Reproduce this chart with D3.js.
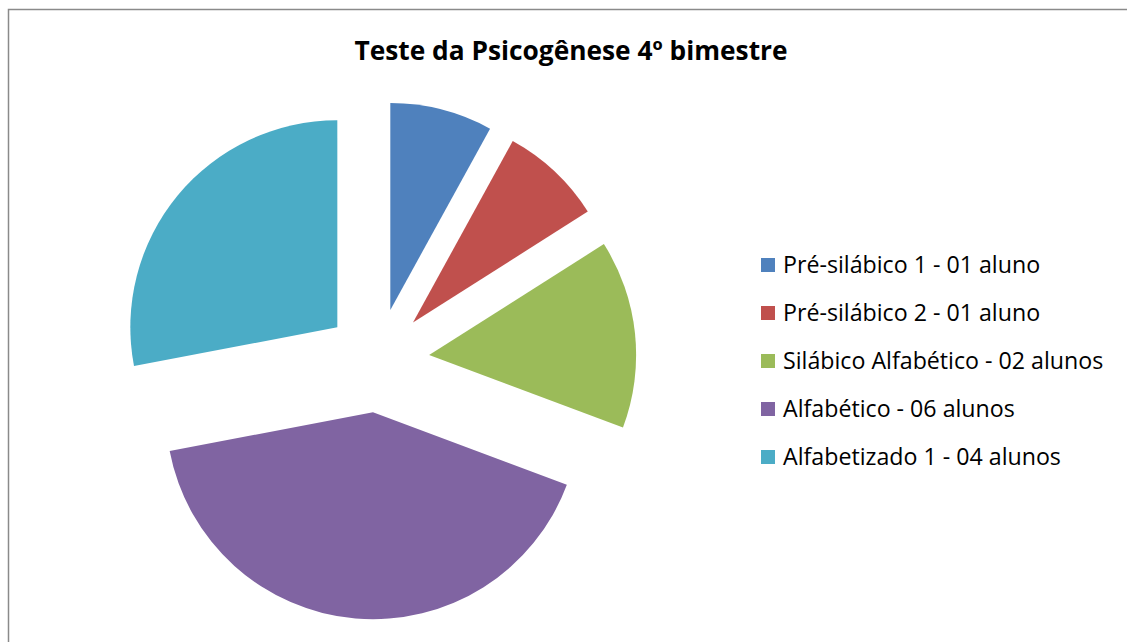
<!DOCTYPE html>
<html>
<head>
<meta charset="utf-8">
<script src="https://cdn.jsdelivr.net/npm/d3@7"></script>
<style>
  html, body { margin: 0; padding: 0; background: #fff; }
  svg { display: block; }
  .title { font-family: 'Open Sans', Lato, sans-serif; font-weight: bold; font-size: 26.3px; fill: #000; }
  .legend text { font-family: 'Open Sans', Lato, sans-serif; font-size: 23.2px; fill: #000; }
</style>
</head>
<body>
<div id="chart"></div>
<script>
var title = 'Teste da Psicogênese 4º bimestre';

var categories = [
  'Pré-silábico 1 - 01 aluno',
  'Pré-silábico 2 - 01 aluno',
  'Silábico Alfabético - 02 alunos',
  'Alfabético - 06 alunos',
  'Alfabetizado 1 - 04 alunos'
];

// slice sizes (share of the pie, %)
var shares = [8, 8, 14.7, 41.3, 28];

var colours = ['#4f81bd', '#c0504d', '#9bbb59', '#8064a2', '#4bacc6'];

var width = 1127,
    height = 642;

var svg = d3.select('#chart').append('svg')
    .attr('width', width)
    .attr('height', height);

// chart area frame (only top and left edges fall inside the picture)
svg.append('rect')
    .attr('x', 8.5)
    .attr('y', 9.5)
    .attr('width', width + 20)
    .attr('height', height + 20)
    .style('fill', '#fff')
    .style('stroke', '#8a8a8a')
    .style('stroke-width', 1.5);

svg.append('text')
    .attr('class', 'title')
    .attr('x', 571)
    .attr('y', 60)
    .style('text-anchor', 'middle')
    .text(title);

var data = categories.map(function(c, i) {
  return {name: c, value: shares[i], colour: colours[i]};
});

var radius = 207,
    explode = 52;

var pie = d3.pie()
    .sort(null)
    .value(function(d) { return d.value; });

var arc = d3.arc()
    .innerRadius(0)
    .outerRadius(radius);

var pieGroup = svg.append('g')
    .attr('transform', 'translate(377.4,360.4)');

// every slice is pushed out along its bisector
pieGroup.selectAll('path')
    .data(pie(data))
  .enter().append('path')
    .attr('d', arc)
    .attr('transform', function(d) {
      var a = (d.startAngle + d.endAngle) / 2;
      return 'translate(' + (explode * Math.sin(a)) + ',' + (-explode * Math.cos(a)) + ')';
    })
    .style('fill', function(d) { return d.data.colour; });

// legend
var legendY = d3.scalePoint()
    .domain(categories)
    .range([265, 457]);

var legend = svg.selectAll('.legend')
    .data(data)
  .enter().append('g')
    .attr('class', 'legend')
    .attr('transform', function(d) { return 'translate(761,' + legendY(d.name) + ')'; });

legend.append('rect')
    .attr('x', 0)
    .attr('y', -7)
    .attr('width', 14)
    .attr('height', 14)
    .style('fill', function(d) { return d.colour; });

legend.append('text')
    .attr('x', 22)
    .attr('y', 8)
    .text(function(d) { return d.name; });
</script>
</body>
</html>
